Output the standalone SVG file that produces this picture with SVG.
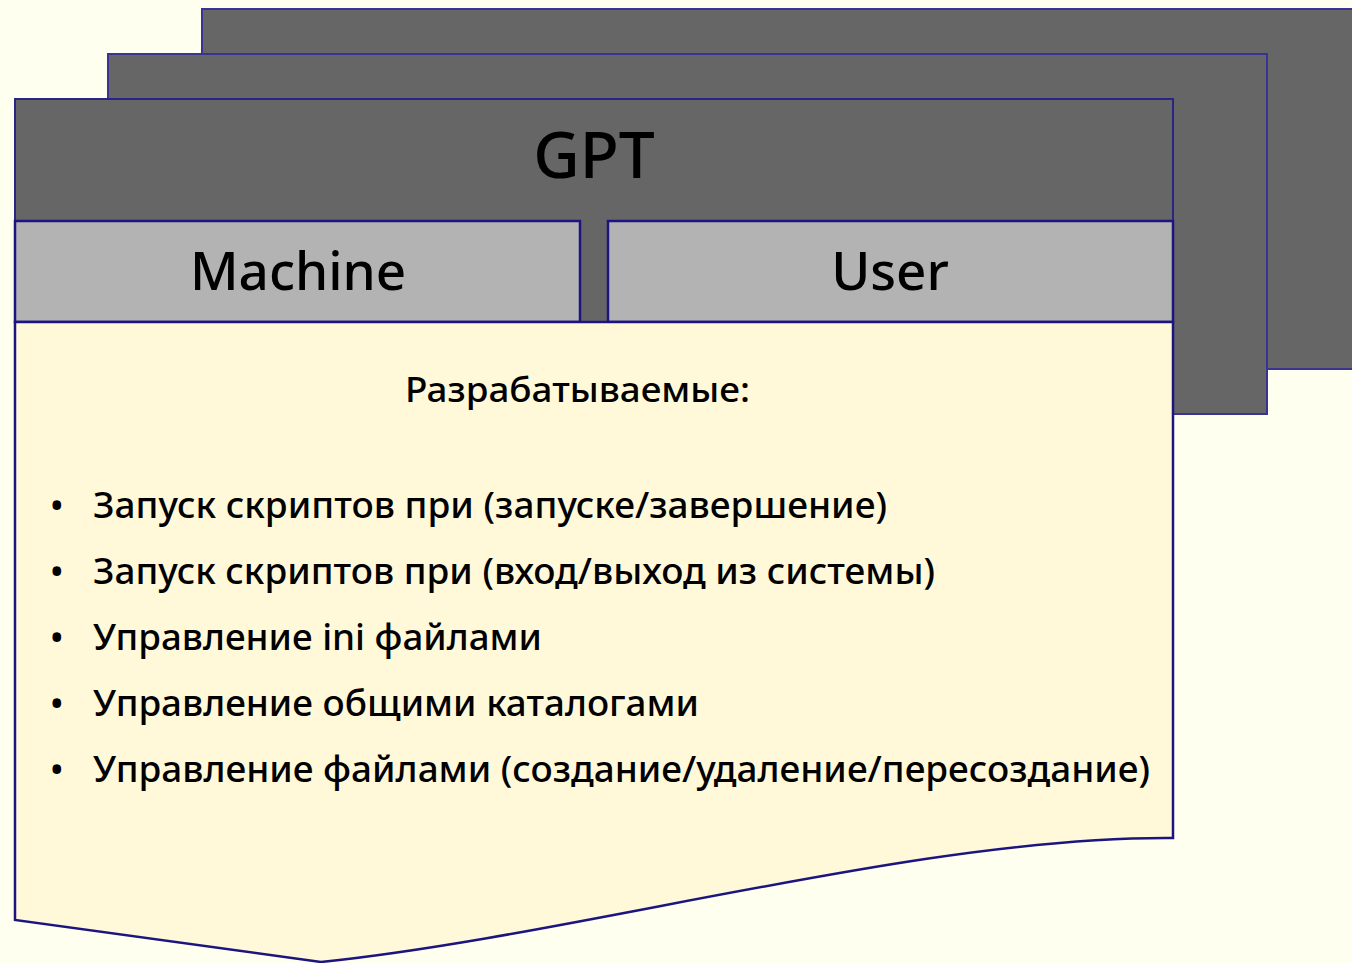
<svg xmlns="http://www.w3.org/2000/svg" width="1352" height="963" viewBox="0 0 1352 963">
<style>
.back{fill:#666666;stroke:#3a3390;stroke-width:2}
.hdr{fill:#666666;stroke:#2a2485;stroke-width:2}
.tab{fill:#b3b3b3;stroke:#1c1580;stroke-width:2.5}
.body{fill:#fff9da;stroke:#1c1580;stroke-width:2.5}
text{font-family:"Noto Sans","Open Sans",sans-serif;fill:#000}
.t{font-size:36px;font-weight:500}
</style>
<rect width="1352" height="963" fill="#fffff0"/>
<g id="card3"><rect class="back" x="202" y="9" width="1160" height="360"/></g>
<g id="card2"><rect class="back" x="108" y="54" width="1159" height="360"/></g>
<g id="card1">
<rect class="hdr" x="15" y="99" width="1158" height="223"/>
<text x="594" y="178" font-size="64" text-anchor="middle" font-weight="500">GPT</text>
</g>
<g id="machine">
<rect class="tab" x="15" y="221" width="565" height="101"/>
<text x="298" y="290" font-size="53" text-anchor="middle" font-weight="500">Machine</text>
</g>
<g id="user">
<rect class="tab" x="608" y="221" width="565" height="101"/>
<text x="890" y="290" font-size="53" text-anchor="middle" font-weight="500">User</text>
</g>
<g id="body">
<path class="body" d="M15,322 L1173,322 L1173,838 C920,836 580,935 321,962 L15,920 Z"/>
<text x="405" y="402" font-size="35" font-weight="500" textLength="345" lengthAdjust="spacingAndGlyphs">Разрабатываемые:</text>
<g class="t">
<text x="50" y="518">•</text><text x="93" y="518" textLength="794" lengthAdjust="spacingAndGlyphs">Запуск скриптов при (запуске/завершение)</text>
<text x="50" y="584">•</text><text x="93" y="584" textLength="842" lengthAdjust="spacingAndGlyphs">Запуск скриптов при (вход/выход из системы)</text>
<text x="50" y="650">•</text><text x="93" y="650" textLength="449" lengthAdjust="spacingAndGlyphs">Управление ini файлами</text>
<text x="50" y="716">•</text><text x="93" y="716" textLength="606" lengthAdjust="spacingAndGlyphs">Управление общими каталогами</text>
<text x="50" y="782">•</text><text x="93" y="782" textLength="1057" lengthAdjust="spacingAndGlyphs">Управление файлами (создание/удаление/пересоздание)</text>
</g>
</g>
<g id="connectors"></g>
</svg>
